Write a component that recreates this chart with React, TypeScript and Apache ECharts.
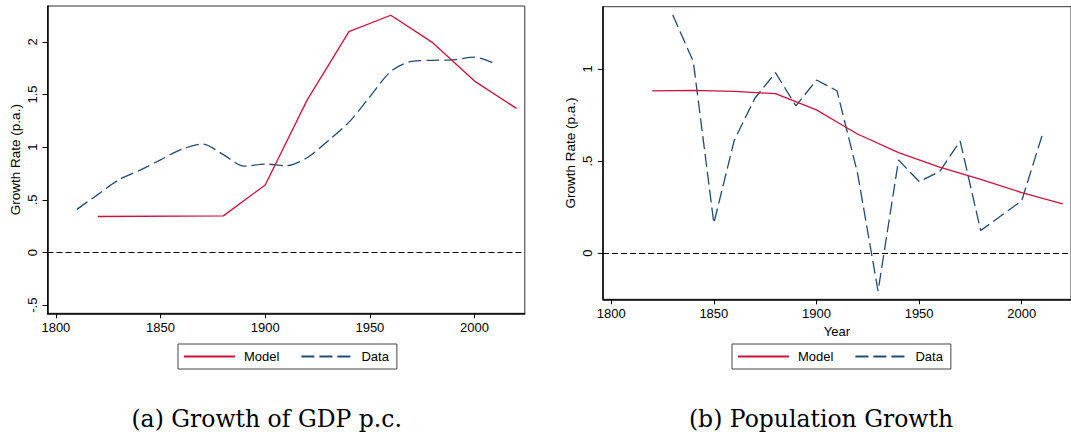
import React, { useEffect, useRef } from "react";
import * as echarts from "echarts";

// ---- Data ----
const xTickYears = [1800, 1850, 1900, 1950, 2000];
const gdpYTicks = [-0.5, 0, 0.5, 1, 1.5, 2];
const popYTicks = [0, 0.5, 1];

const gdpModelYears = [1820, 1880, 1900, 1920, 1940, 1960, 1980, 2000, 2020];
const gdpModel = [0.342, 0.348, 0.642, 1.447, 2.097, 2.253, 1.993, 1.628, 1.369];

const gdpDataYears = [1810, 1820, 1830, 1840, 1850, 1860, 1870, 1880, 1890, 1900, 1910, 1920, 1930, 1940, 1950, 1960, 1970, 1980, 1990, 2000, 2010];
const gdpData = [0.41, 0.55, 0.69, 0.78, 0.88, 0.98, 1.03, 0.93, 0.82, 0.84, 0.825, 0.9, 1.06, 1.238, 1.48, 1.72, 1.815, 1.825, 1.83, 1.855, 1.79];

const popModelYears = [1820, 1840, 1860, 1880, 1900, 1910, 1920, 1940, 1960, 1980, 2000, 2020];
const popModel = [0.881, 0.884, 0.878, 0.866, 0.778, 0.712, 0.647, 0.546, 0.467, 0.401, 0.329, 0.268];

const popDataYears = [1830, 1840, 1850, 1860, 1870, 1880, 1890, 1900, 1910, 1920, 1930, 1940, 1950, 1960, 1970, 1980, 2000, 2010];
const popData = [1.293, 1.04, 0.163, 0.615, 0.841, 0.98, 0.8, 0.94, 0.882, 0.435, -0.205, 0.506, 0.389, 0.443, 0.609, 0.123, 0.285, 0.642];

const seriesNames = ["Model", "Data"];
const captions = ["(a) Growth of GDP p.c.", "(b) Population Growth"];
const yTitle = "Growth Rate (p.a.)";
const xTitle = "Year";

const RED = "#d0103a";
const BLUE = "#1f4b74";
const SANS = "'Liberation Sans', Arial, Helvetica, sans-serif";

const pairs = (xs: number[], ys: number[]) => xs.map((x, i) => [x, ys[i]]);
const fmtY = (v: number) => {
  let s = String(Math.round(v * 100) / 100);
  s = s.replace(/^0\./, ".").replace(/^-0\./, "-.");
  return s;
};

export default function App() {
  const ref = useRef<HTMLDivElement>(null);

  useEffect(() => {
    if (!ref.current) return;
    const chart = echarts.init(ref.current, undefined, { renderer: "svg" });

    const xAxisBase = (gridIndex: number, name: string) => ({
      type: "value",
      gridIndex,
      min: 1796,
      max: 2024,
      name,
      nameLocation: "middle",
      nameGap: 21,
      nameTextStyle: { fontFamily: SANS, fontSize: 13, color: "#000" },
      axisLine: { show: true, onZero: false, lineStyle: { color: "#000", width: 1.5 } },
      axisTick: { show: true, length: 5, customValues: xTickYears, lineStyle: { color: "#000", width: 1 } },
      axisLabel: {
        customValues: xTickYears,
        fontFamily: SANS,
        fontSize: 13,
        color: "#000",
        margin: 8,
        formatter: (v: number) => String(Math.round(v)),
      },
      splitLine: { show: false },
    });

    const yAxisBase = (gridIndex: number, min: number, max: number, ticks: number[], gap: number) => ({
      type: "value",
      gridIndex,
      min,
      max,
      name: yTitle,
      nameLocation: "middle",
      nameGap: gap,
      nameRotate: 90,
      nameTextStyle: { fontFamily: SANS, fontSize: 13.5, color: "#000" },
      axisLine: { show: true, onZero: false, lineStyle: { color: "#000", width: 1.5 } },
      axisTick: { show: true, length: 5, customValues: ticks, lineStyle: { color: "#000", width: 1 } },
      axisLabel: {
        customValues: ticks,
        rotate: 90,
        fontFamily: SANS,
        fontSize: 13,
        color: "#000",
        margin: 9,
        formatter: (v: number) => fmtY(v),
      },
      splitLine: { show: false },
    });

    const zeroLine = {
      silent: true,
      symbol: ["none", "none"],
      label: { show: false },
      lineStyle: { type: [6, 3], color: "#000", width: 1 },
      data: [{ yAxis: 0 }],
    };

    const legendBase = (left: number) => ({
      left,
      top: 344,
      orient: "horizontal",
      data: seriesNames,
      itemWidth: 51,
      itemHeight: 12,
      itemGap: 21,
      padding: [6, 8, 6, 5],
      borderColor: "#444",
      borderWidth: 1,
      selectedMode: false,
      itemStyle: { opacity: 0 },
      textStyle: { fontFamily: SANS, fontSize: 13, color: "#000", padding: [0, 0, 0, 4] },
    });

    chart.setOption({
      animation: false,
      backgroundColor: "#fff",
      grid: [
        { left: 47.5, top: 6, width: 477.3, height: 307.3, show: true, borderColor: "#333", borderWidth: 1, backgroundColor: "transparent" },
        { left: 603, top: 6.7, width: 476, height: 292.6, show: true, borderColor: "#333", borderWidth: 1, backgroundColor: "transparent" },
      ],
      xAxis: [xAxisBase(0, ""), xAxisBase(1, xTitle)],
      yAxis: [yAxisBase(0, -0.577, 2.341, gdpYTicks, 25), yAxisBase(1, -0.25, 1.338, popYTicks, 26)],
      legend: [legendBase(178), legendBase(732)],
      series: [
        {
          name: "Model",
          type: "line",
          xAxisIndex: 0,
          yAxisIndex: 0,
          data: pairs(gdpModelYears, gdpModel),
          symbol: "none",
          color: RED,
          lineStyle: { color: RED, width: 1.3 },
          markLine: zeroLine,
          z: 3,
        },
        {
          name: "Data",
          type: "line",
          xAxisIndex: 0,
          yAxisIndex: 0,
          data: pairs(gdpDataYears, gdpData),
          symbol: "none",
          smooth: 0.3,
          color: BLUE,
          lineStyle: { color: BLUE, width: 1.3, type: [13, 5] },
          z: 2,
        },
        {
          name: "Model",
          type: "line",
          xAxisIndex: 1,
          yAxisIndex: 1,
          data: pairs(popModelYears, popModel),
          symbol: "none",
          color: RED,
          lineStyle: { color: RED, width: 1.3 },
          markLine: zeroLine,
          z: 3,
        },
        {
          name: "Data",
          type: "line",
          xAxisIndex: 1,
          yAxisIndex: 1,
          data: pairs(popDataYears, popData),
          symbol: "none",
          color: BLUE,
          lineStyle: { color: BLUE, width: 1.3, type: [13, 5] },
          z: 2,
        },
      ],
      graphic: [
        {
          type: "text",
          x: 266.7,
          y: 419,
          style: {
            text: captions[0],
            fontFamily: "'DejaVu Serif', serif",
            fontSize: 23.5,
            fill: "#000",
            textAlign: "center",
            textVerticalAlign: "middle",
          },
        },
        {
          type: "text",
          x: 821,
          y: 419,
          style: {
            text: captions[1],
            fontFamily: "'DejaVu Serif', serif",
            fontSize: 23.5,
            fill: "#000",
            textAlign: "center",
            textVerticalAlign: "middle",
          },
        },
      ],
    });

    return () => chart.dispose();
  }, []);

  return (
    <div style={{ position: "absolute", left: 0, top: 0, width: 1071, height: 435, overflow: "hidden", background: "#fff" }}>
      <div ref={ref} style={{ width: 1071, height: 435 }} />
    </div>
  );
}
